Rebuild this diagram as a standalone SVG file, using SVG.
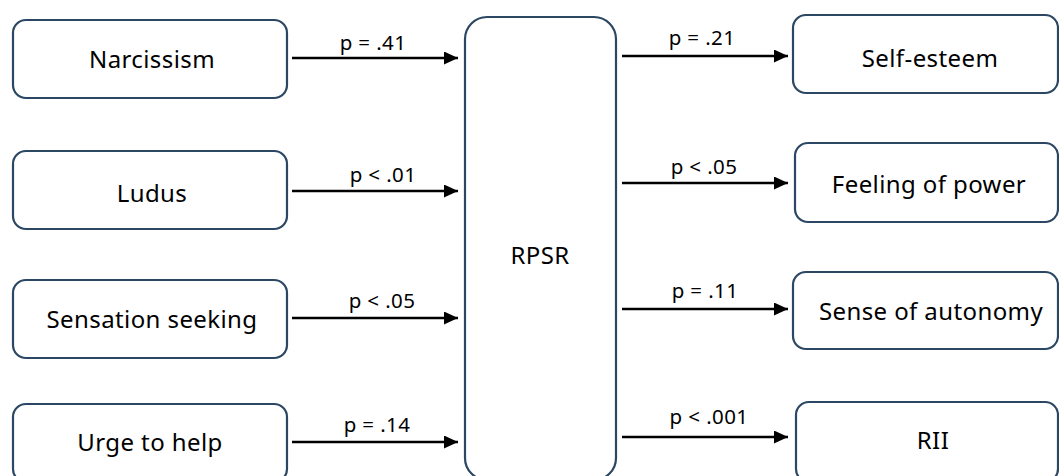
<svg xmlns="http://www.w3.org/2000/svg" width="1059" height="476" viewBox="0 0 1059 476">
  <defs>
    <style>
      .box { fill: #ffffff; stroke: #2b4763; stroke-width: 2.2; }
      .label { font-family: "Noto Sans", "Liberation Sans", sans-serif; font-size: 24px; fill: #000000; text-anchor: middle; letter-spacing: 0.4px; }
      .plabel { font-family: "Noto Sans", "Liberation Sans", sans-serif; font-size: 20.5px; fill: #000000; text-anchor: middle; letter-spacing: 0.4px; }
      .edge { stroke: #000000; stroke-width: 2.5; fill: none; marker-end: url(#arrow); }
    </style>
    <marker id="arrow" viewBox="0 0 14 13" refX="14" refY="6.5" markerWidth="14" markerHeight="13" markerUnits="userSpaceOnUse" orient="auto">
      <path d="M0,0 L14,6.5 L0,13 Z" fill="#000000"/>
    </marker>
  </defs>
  <rect width="1059" height="476" fill="#ffffff"/>

  <!-- predictors -->
  <g id="narcissism">
    <rect class="box" x="13" y="20" width="274" height="78" rx="13"/>
    <text class="label" x="152" y="68">Narcissism</text>
  </g>
  <g id="ludus">
    <rect class="box" x="13" y="151" width="274" height="78" rx="13"/>
    <text class="label" x="152" y="202">Ludus</text>
  </g>
  <g id="sensation-seeking">
    <rect class="box" x="13" y="280" width="274" height="78" rx="13"/>
    <text class="label" x="152" y="328">Sensation seeking</text>
  </g>
  <g id="urge-to-help">
    <rect class="box" x="13" y="404" width="274" height="78" rx="13"/>
    <text class="label" x="150" y="451">Urge to help</text>
  </g>

  <!-- mediator -->
  <g id="rpsr">
    <rect class="box" x="465" y="17" width="151" height="463" rx="22"/>
    <text class="label" x="540" y="264">RPSR</text>
  </g>

  <!-- outcomes -->
  <g id="self-esteem">
    <rect class="box" x="793" y="15" width="265" height="78" rx="13"/>
    <text class="label" x="930" y="67">Self-esteem</text>
  </g>
  <g id="feeling-of-power">
    <rect class="box" x="795" y="143" width="263" height="79" rx="13"/>
    <text class="label" x="929" y="193">Feeling of power</text>
  </g>
  <g id="sense-of-autonomy">
    <rect class="box" x="793" y="272" width="265" height="77" rx="13"/>
    <text class="label" x="931" y="320">Sense of autonomy</text>
  </g>
  <g id="rii">
    <rect class="box" x="796" y="402" width="262" height="80" rx="13"/>
    <text class="label" x="933" y="449">RII</text>
  </g>

  <!-- connectors -->
  <g id="connectors">
    <line class="edge" x1="292" y1="58" x2="458" y2="58"/>
    <line class="edge" x1="292" y1="191" x2="458" y2="191"/>
    <line class="edge" x1="292" y1="318" x2="458" y2="318"/>
    <line class="edge" x1="292" y1="442" x2="458" y2="442"/>
    <line class="edge" x1="622" y1="56" x2="788" y2="56"/>
    <line class="edge" x1="622" y1="183" x2="788" y2="183"/>
    <line class="edge" x1="622" y1="309" x2="788" y2="309"/>
    <line class="edge" x1="622" y1="437" x2="788" y2="437"/>
    <text class="plabel" x="373" y="50">p = .41</text>
    <text class="plabel" x="383" y="182">p &lt; .01</text>
    <text class="plabel" x="382" y="308">p &lt; .05</text>
    <text class="plabel" x="377" y="432">p = .14</text>
    <text class="plabel" x="702" y="45">p = .21</text>
    <text class="plabel" x="704" y="174">p &lt; .05</text>
    <text class="plabel" x="705" y="298">p = .11</text>
    <text class="plabel" x="709" y="424">p &lt; .001</text>
  </g>
</svg>
